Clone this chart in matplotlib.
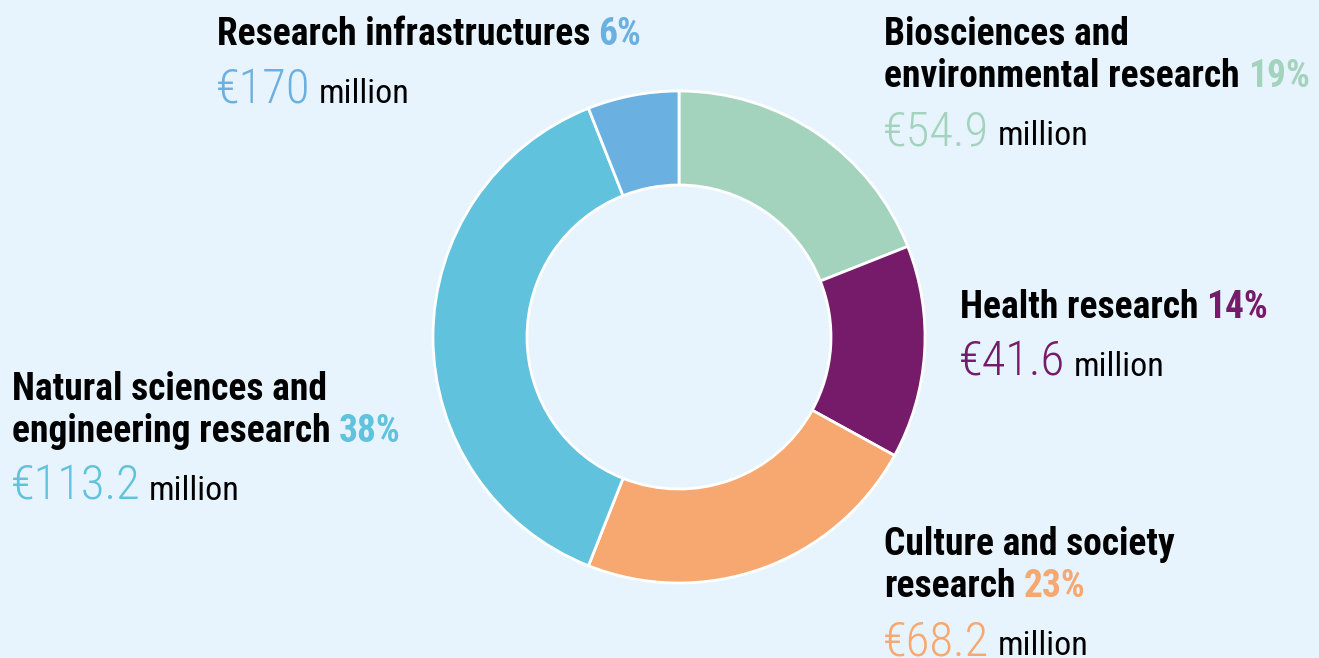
import matplotlib
matplotlib.use("Agg")
import matplotlib.pyplot as plt
from matplotlib import font_manager

# ---------------------------------------------------------------
# data
# ---------------------------------------------------------------
categories = ["Biosciences and\nenvironmental research",
              "Health research",
              "Culture and society\nresearch",
              "Natural sciences and\nengineering research",
              "Research infrastructures"]
shares = [19, 14, 23, 38, 6]
amounts = ["€54.9", "€41.6", "€68.2", "€113.2", "€170"]
unit = "million"
colors = ["#A3D3BC", "#761A6A", "#F6A870", "#60C2DC", "#6AB0E0"]

# label anchors in pixels (left, baseline of first line)
label_pos = [(884, 45), (960, 318), (884, 555), (12, 400), (217, 45)]

W, H = 1319, 658
BG = "#E8F4FD"

# pick a condensed face, the original uses a condensed grotesque
names = {f.name for f in font_manager.fontManager.ttflist}
FONT = "Roboto"
for cand in ["Roboto Condensed", "Barlow Semi Condensed", "Archivo Narrow",
             "Asap Condensed", "Barlow Condensed"]:
    if cand in names:
        FONT = cand
        break
FAM = [FONT, "DejaVu Sans"]

fig = plt.figure(figsize=(W / 100, H / 100), dpi=100, facecolor=BG)

# donut
cx, cy, R = 679, 337, 246
ax = fig.add_axes([(cx - R) / W, (H - cy - R) / H, 2 * R / W, 2 * R / H])
ax.pie(shares, colors=colors, startangle=90, counterclock=False, radius=1,
       wedgeprops=dict(width=1 - 152 / R, edgecolor="white", linewidth=2))
ax.set_xlim(-1, 1)
ax.set_ylim(-1, 1)
ax.set_aspect("equal")
ax.axis("off")

renderer = fig.canvas.get_renderer()


def put_line(x, y, parts):
    for txt, color, size, weight, gap in parts:
        t = fig.text(x / W, 1 - y / H, txt, color=color, fontsize=size,
                     fontweight=weight, family=FAM, va="baseline", ha="left")
        bb = t.get_window_extent(renderer)
        x += bb.width + gap


LINE = 42
for cat, share, amt, col, (x, y) in zip(categories, shares, amounts, colors, label_pos):
    lines = cat.split("\n")
    for i, ln in enumerate(lines):
        parts = [(ln, "black", 27, "bold", 8)]
        if i == len(lines) - 1:
            parts.append((f"{share}%", col, 27, "bold", 0))
        put_line(x, y + i * LINE, parts)
    yb = y + (len(lines) - 1) * LINE + 58
    put_line(x - 1, yb, [(amt, col, 35, "light", 8),
                         (unit, "black", 24.5, "normal", 0)])

fig.savefig("out.png", dpi=100, facecolor=BG)
